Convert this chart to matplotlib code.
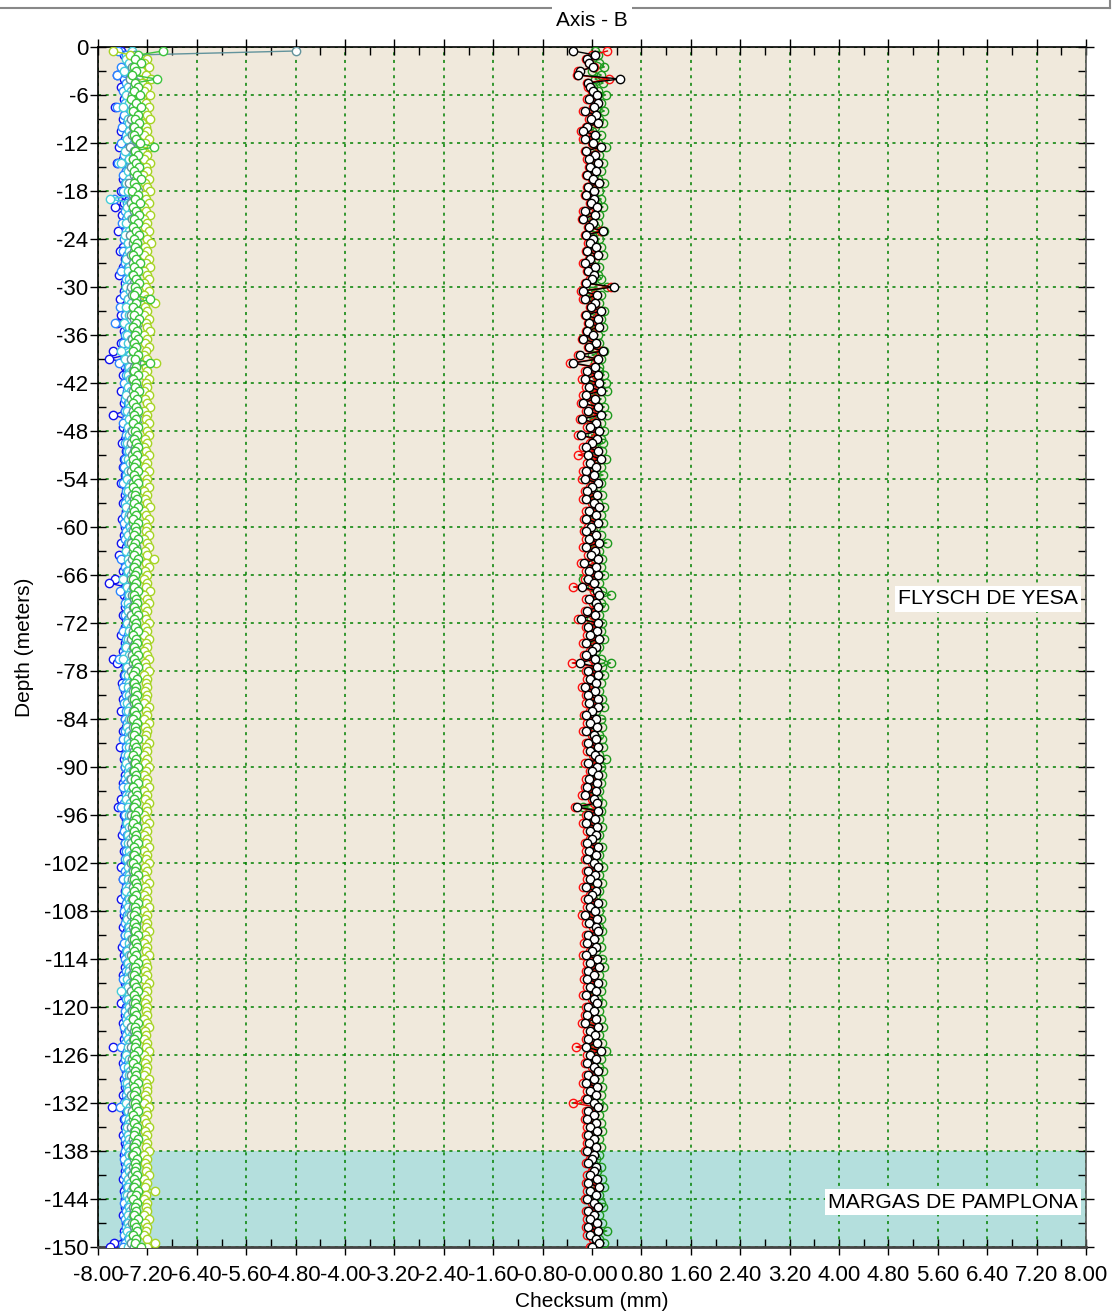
import numpy as np
import matplotlib
matplotlib.use("Agg")
import matplotlib.pyplot as plt
from matplotlib.lines import Line2D
from matplotlib.ticker import MultipleLocator

plt.rcParams['font.family'] = ['Liberation Sans', 'DejaVu Sans']
plt.rcParams['axes.unicode_minus'] = False

# sample depths every 0.5 m (0.5 .. 150)
depth = -np.arange(0.5, 150.01, 0.5)

# left group (axis B, cumulative)
blue = [
    -7.62, -7.58, -7.48, -7.52, -7.45, -7.55, -7.70, -7.58, -7.50, -7.62, -7.47, -7.55, -7.58, -7.50, -7.72, -7.54, -7.49, -7.60, -7.46, -7.53,
    -7.62, -7.50, -7.57, -7.48, -7.66, -7.52, -7.45, -7.59, -7.70, -7.51, -7.55, -7.47, -7.60, -7.53, -7.49, -7.63, -7.56, -7.50, -7.58, -7.72,
    -7.54, -7.61, -7.49, -7.57, -7.52, -7.68, -7.50, -7.55, -7.46, -7.59, -7.64, -7.51, -7.57, -7.48, -7.60, -7.53, -7.66, -7.50, -7.56, -7.49,
    -7.58, -7.52, -7.65, -7.50, -7.55, -7.47, -7.62, -7.54, -7.70, -7.51, -7.58, -7.49, -7.56, -7.62, -7.52, -7.75, -7.55, -7.82, -7.50, -7.57,
    -7.53, -7.60, -7.49, -7.56, -7.51, -7.63, -7.55, -7.48, -7.58, -7.52, -7.57, -7.75, -7.54, -7.50, -7.59, -7.53, -7.47, -7.56, -7.61, -7.52,
    -7.55, -7.49, -7.58, -7.53, -7.60, -7.51, -7.56, -7.48, -7.62, -7.54, -7.50, -7.57, -7.53, -7.59, -7.49, -7.55, -7.52, -7.61, -7.50, -7.56,
    -7.53, -7.58, -7.50, -7.62, -7.55, -7.49, -7.66, -7.52, -7.57, -7.51, -7.60, -7.54, -7.72, -7.82, -7.56, -7.50, -7.58, -7.53, -7.49, -7.57,
    -7.52, -7.60, -7.55, -7.50, -7.57, -7.53, -7.62, -7.49, -7.56, -7.52, -7.59, -7.54, -7.76, -7.70, -7.55, -7.50, -7.58, -7.53, -7.61, -7.51,
    -7.56, -7.52, -7.59, -7.50, -7.55, -7.62, -7.53, -7.57, -7.49, -7.55, -7.60, -7.52, -7.57, -7.51, -7.64, -7.54, -7.50, -7.58, -7.53, -7.56,
    -7.50, -7.57, -7.53, -7.60, -7.52, -7.56, -7.49, -7.62, -7.55, -7.68, -7.51, -7.58, -7.54, -7.50, -7.57, -7.53, -7.61, -7.52, -7.56, -7.49,
    -7.58, -7.53, -7.50, -7.57, -7.62, -7.54, -7.51, -7.59, -7.55, -7.50, -7.57, -7.53, -7.63, -7.52, -7.56, -7.49, -7.58, -7.54, -7.51, -7.60,
    -7.53, -7.57, -7.50, -7.55, -7.61, -7.52, -7.58, -7.54, -7.50, -7.56, -7.53, -7.60, -7.51, -7.57, -7.54, -7.50, -7.58, -7.52, -7.62, -7.55,
    -7.51, -7.57, -7.53, -7.60, -7.52, -7.56, -7.50, -7.58, -7.54, -7.76, -7.52, -7.57, -7.53, -7.60, -7.51, -7.55, -7.50, -7.58, -7.53, -7.56,
    -7.52, -7.59, -7.54, -7.50, -7.78, -7.55, -7.52, -7.58, -7.50, -7.56, -7.53, -7.60, -7.51, -7.57, -7.54, -7.50, -7.58, -7.53, -7.56, -7.52,
    -7.57, -7.53, -7.60, -7.51, -7.55, -7.58, -7.52, -7.56, -7.50, -7.57, -7.54, -7.59, -7.52, -7.55, -7.51, -7.58, -7.53, -7.56, -7.74, -7.80,
]
dodger = [
    -7.68, -7.55, -7.50, -7.45, -7.62, -7.48, -7.70, -7.46, -7.55, -7.50, -7.60, -7.52, -7.48, -7.56, -7.70, -7.50, -7.58, -7.47, -7.53, -7.61,
    -7.49, -7.55, -7.50, -7.63, -7.47, -7.52, -7.58, -7.50, -7.67, -7.49, -7.54, -7.60, -7.48, -7.56, -7.51, -7.59, -7.47, -7.74, -7.53, -7.50,
    -7.57, -7.49, -7.55, -7.61, -7.50, -7.54, -7.47, -7.58, -7.52, -7.49, -7.60, -7.53, -7.48, -7.56, -7.51, -7.62, -7.50, -7.55, -7.48, -7.53,
    -7.50, -7.58, -7.52, -7.47, -7.65, -7.51, -7.56, -7.48, -7.72, -7.53, -7.49, -7.57, -7.51, -7.60, -7.48, -7.54, -7.50, -7.58, -7.66, -7.52,
    -7.48, -7.55, -7.51, -7.58, -7.49, -7.53, -7.47, -7.56, -7.52, -7.50, -7.57, -7.49, -7.54, -7.60, -7.51, -7.48, -7.55, -7.52, -7.57, -7.50,
    -7.53, -7.48, -7.56, -7.51, -7.58, -7.49, -7.54, -7.52, -7.60, -7.50, -7.55, -7.47, -7.53, -7.57, -7.51, -7.49, -7.56, -7.52, -7.58, -7.50,
    -7.54, -7.49, -7.57, -7.52, -7.48, -7.55, -7.51, -7.62, -7.50, -7.56, -7.53, -7.49, -7.58, -7.51, -7.55, -7.64, -7.52, -7.48, -7.56, -7.51,
    -7.50, -7.57, -7.52, -7.49, -7.55, -7.60, -7.51, -7.54, -7.48, -7.56, -7.52, -7.58, -7.66, -7.50, -7.55, -7.49, -7.57, -7.52, -7.54, -7.60,
    -7.51, -7.55, -7.49, -7.58, -7.52, -7.54, -7.50, -7.57, -7.53, -7.49, -7.56, -7.51, -7.59, -7.52, -7.55, -7.48, -7.57, -7.53, -7.50, -7.56,
    -7.52, -7.49, -7.57, -7.53, -7.60, -7.50, -7.55, -7.51, -7.58, -7.63, -7.52, -7.56, -7.49, -7.54, -7.51, -7.58, -7.53, -7.50, -7.56, -7.52,
    -7.55, -7.50, -7.57, -7.52, -7.49, -7.56, -7.53, -7.60, -7.51, -7.55, -7.48, -7.57, -7.52, -7.54, -7.50, -7.58, -7.53, -7.49, -7.56, -7.51,
    -7.50, -7.56, -7.52, -7.58, -7.49, -7.54, -7.51, -7.57, -7.53, -7.50, -7.55, -7.52, -7.59, -7.50, -7.54, -7.57, -7.51, -7.55, -7.49, -7.53,
    -7.56, -7.51, -7.54, -7.49, -7.58, -7.52, -7.55, -7.50, -7.57, -7.62, -7.53, -7.50, -7.56, -7.52, -7.58, -7.51, -7.54, -7.49, -7.57, -7.53,
    -7.50, -7.55, -7.52, -7.58, -7.64, -7.53, -7.50, -7.56, -7.52, -7.49, -7.55, -7.51, -7.57, -7.53, -7.50, -7.56, -7.52, -7.58, -7.51, -7.54,
    -7.52, -7.57, -7.50, -7.55, -7.53, -7.49, -7.56, -7.52, -7.58, -7.51, -7.54, -7.50, -7.57, -7.53, -7.55, -7.50, -7.58, -7.52, -7.56, -7.60,
]
cyan = [
    -7.45, -7.40, -7.55, -7.50, -7.42, -7.58, -7.45, -7.48, -7.40, -7.52, -7.46, -7.55, -7.42, -7.50, -7.60, -7.47, -7.43, -7.52, -7.49, -7.44,
    -7.50, -7.46, -7.53, -7.41, -7.48, -7.56, -7.44, -7.50, -7.62, -7.47, -7.52, -7.43, -7.49, -7.55, -7.46, -7.51, -7.44, -7.80, -7.48, -7.53,
    -7.45, -7.51, -7.47, -7.54, -7.43, -7.49, -7.56, -7.46, -7.52, -7.44, -7.50, -7.47, -7.55, -7.43, -7.49, -7.52, -7.45, -7.50, -7.47, -7.54,
    -7.48, -7.44, -7.52, -7.47, -7.55, -7.43, -7.50, -7.46, -7.58, -7.49, -7.45, -7.53, -7.47, -7.51, -7.44, -7.62, -7.48, -7.56, -7.45, -7.50,
    -7.46, -7.52, -7.48, -7.44, -7.51, -7.47, -7.54, -7.45, -7.50, -7.48, -7.53, -7.46, -7.49, -7.44, -7.52, -7.47, -7.50, -7.45, -7.53, -7.48,
    -7.50, -7.45, -7.52, -7.48, -7.44, -7.51, -7.47, -7.53, -7.46, -7.49, -7.52, -7.45, -7.50, -7.47, -7.54, -7.46, -7.49, -7.52, -7.45, -7.48,
    -7.47, -7.52, -7.45, -7.50, -7.48, -7.54, -7.46, -7.51, -7.49, -7.44, -7.52, -7.47, -7.60, -7.48, -7.53, -7.46, -7.50, -7.45, -7.52, -7.48,
    -7.51, -7.46, -7.49, -7.53, -7.47, -7.50, -7.45, -7.52, -7.48, -7.54, -7.46, -7.50, -7.60, -7.48, -7.53, -7.47, -7.51, -7.45, -7.49, -7.52,
    -7.47, -7.50, -7.46, -7.53, -7.48, -7.51, -7.45, -7.50, -7.47, -7.53, -7.49, -7.46, -7.52, -7.48, -7.50, -7.45, -7.51, -7.47, -7.54, -7.49,
    -7.46, -7.51, -7.48, -7.45, -7.52, -7.47, -7.50, -7.55, -7.48, -7.52, -7.46, -7.50, -7.47, -7.53, -7.49, -7.45, -7.51, -7.48, -7.52, -7.46,
    -7.50, -7.47, -7.53, -7.48, -7.51, -7.45, -7.49, -7.52, -7.47, -7.50, -7.54, -7.46, -7.50, -7.48, -7.52, -7.47, -7.49, -7.53, -7.46, -7.50,
    -7.48, -7.52, -7.46, -7.50, -7.47, -7.53, -7.49, -7.45, -7.51, -7.48, -7.50, -7.46, -7.53, -7.48, -7.51, -7.62, -7.49, -7.52, -7.47, -7.50,
    -7.46, -7.51, -7.48, -7.53, -7.47, -7.50, -7.45, -7.52, -7.48, -7.51, -7.47, -7.54, -7.49, -7.46, -7.52, -7.48, -7.50, -7.47, -7.53, -7.49,
    -7.51, -7.47, -7.50, -7.54, -7.48, -7.52, -7.46, -7.50, -7.48, -7.53, -7.47, -7.51, -7.49, -7.46, -7.52, -7.48, -7.50, -7.45, -7.51, -7.48,
    -7.50, -7.46, -7.52, -7.48, -7.51, -7.47, -7.53, -7.49, -7.46, -7.50, -7.48, -7.52, -7.47, -7.51, -7.49, -7.53, -7.48, -7.50, -7.46, -7.52,
]
slate = [
    -4.80, -7.40, -7.28, -7.35, -7.45, -7.40, -7.32, -7.48, -7.38, -7.42, -7.30, -7.45, -7.37, -7.28, -7.44, -7.40, -7.35, -7.47, -7.39, -7.43,
    -7.36, -7.45, -7.40, -7.33, -7.48, -7.41, -7.37, -7.44, -7.39, -7.46, -7.35, -7.42, -7.38, -7.50, -7.40, -7.36, -7.44, -7.41, -7.47, -7.38,
    -7.42, -7.37, -7.45, -7.40, -7.34, -7.43, -7.48, -7.39, -7.44, -7.36, -7.41, -7.46, -7.38, -7.43, -7.40, -7.35, -7.44, -7.39, -7.42, -7.47,
    -7.40, -7.45, -7.38, -7.25, -7.43, -7.39, -7.46, -7.41, -7.36, -7.44, -7.40, -7.37, -7.45, -7.42, -7.38, -7.44, -7.40, -7.47, -7.25, -7.41,
    -7.43, -7.39, -7.45, -7.41, -7.37, -7.44, -7.40, -7.46, -7.42, -7.38, -7.44, -7.41, -7.36, -7.43, -7.40, -7.45, -7.39, -7.42, -7.46, -7.40,
    -7.41, -7.45, -7.38, -7.43, -7.40, -7.46, -7.42, -7.37, -7.44, -7.41, -7.39, -7.45, -7.42, -7.38, -7.44, -7.40, -7.46, -7.41, -7.43, -7.39,
    -7.44, -7.40, -7.42, -7.47, -7.39, -7.43, -7.41, -7.45, -7.38, -7.42, -7.44, -7.40, -7.46, -7.41, -7.43, -7.38, -7.45, -7.42, -7.40, -7.44,
    -7.41, -7.46, -7.40, -7.43, -7.38, -7.44, -7.42, -7.47, -7.40, -7.43, -7.39, -7.45, -7.41, -7.44, -7.40, -7.46, -7.42, -7.39, -7.44, -7.41,
    -7.43, -7.40, -7.45, -7.42, -7.38, -7.44, -7.41, -7.46, -7.40, -7.43, -7.39, -7.45, -7.42, -7.40, -7.44, -7.41, -7.38, -7.45, -7.42, -7.40,
    -7.44, -7.41, -7.46, -7.40, -7.43, -7.39, -7.45, -7.42, -7.40, -7.44, -7.41, -7.47, -7.42, -7.39, -7.45, -7.41, -7.43, -7.40, -7.46, -7.42,
    -7.40, -7.44, -7.42, -7.46, -7.39, -7.43, -7.41, -7.45, -7.40, -7.44, -7.42, -7.38, -7.45, -7.41, -7.43, -7.40, -7.46, -7.42, -7.39, -7.44,
    -7.42, -7.39, -7.45, -7.41, -7.44, -7.40, -7.46, -7.42, -7.38, -7.44, -7.41, -7.45, -7.40, -7.43, -7.39, -7.46, -7.42, -7.40, -7.44, -7.41,
    -7.45, -7.41, -7.43, -7.39, -7.46, -7.42, -7.40, -7.44, -7.41, -7.47, -7.42, -7.39, -7.45, -7.41, -7.43, -7.40, -7.46, -7.42, -7.44, -7.40,
    -7.42, -7.46, -7.40, -7.43, -7.39, -7.45, -7.41, -7.44, -7.40, -7.46, -7.42, -7.39, -7.44, -7.41, -7.43, -7.40, -7.45, -7.42, -7.38, -7.44,
    -7.41, -7.45, -7.42, -7.39, -7.44, -7.40, -7.46, -7.42, -7.40, -7.44, -7.41, -7.43, -7.39, -7.45, -7.42, -7.40, -7.44, -7.41, -7.46, -7.42,
]
yellowgreen = [
    -7.75, -7.48, -7.20, -7.26, -7.18, -7.30, -7.22, -7.14, -7.28, -7.20, -7.25, -7.16, -7.32, -7.22, -7.18, -7.26, -7.20, -7.15, -7.28, -7.23,
    -7.20, -7.26, -7.17, -7.24, -7.14, -7.28, -7.21, -7.25, -7.16, -7.23, -7.20, -7.27, -7.18, -7.24, -7.21, -7.15, -7.26, -7.22, -7.17, -7.25,
    -7.23, -7.16, -7.26, -7.20, -7.24, -7.17, -7.27, -7.21, -7.14, -7.24, -7.20, -7.26, -7.18, -7.23, -7.16, -7.25, -7.21, -7.17, -7.26, -7.22,
    -7.18, -7.25, -7.21, -7.08, -7.24, -7.20, -7.26, -7.17, -7.23, -7.21, -7.16, -7.25, -7.20, -7.24, -7.17, -7.22, -7.26, -7.20, -7.06, -7.23,
    -7.21, -7.25, -7.17, -7.23, -7.20, -7.26, -7.18, -7.24, -7.21, -7.16, -7.25, -7.20, -7.23, -7.17, -7.26, -7.21, -7.18, -7.24, -7.20, -7.25,
    -7.22, -7.17, -7.25, -7.20, -7.24, -7.18, -7.26, -7.21, -7.23, -7.17, -7.25, -7.20, -7.24, -7.21, -7.16, -7.25, -7.22, -7.18, -7.24, -7.20,
    -7.23, -7.18, -7.25, -7.21, -7.17, -7.24, -7.20, -7.10, -7.22, -7.18, -7.24, -7.21, -7.25, -7.20, -7.23, -7.16, -7.25, -7.21, -7.18, -7.24,
    -7.20, -7.25, -7.22, -7.17, -7.24, -7.21, -7.26, -7.18, -7.23, -7.20, -7.25, -7.21, -7.17, -7.24, -7.22, -7.18, -7.25, -7.20, -7.23, -7.21,
    -7.24, -7.20, -7.22, -7.26, -7.18, -7.23, -7.21, -7.25, -7.17, -7.24, -7.20, -7.22, -7.26, -7.18, -7.23, -7.21, -7.25, -7.20, -7.24, -7.17,
    -7.22, -7.25, -7.20, -7.23, -7.18, -7.26, -7.21, -7.24, -7.17, -7.23, -7.20, -7.25, -7.22, -7.18, -7.24, -7.21, -7.26, -7.20, -7.23, -7.18,
    -7.25, -7.21, -7.23, -7.18, -7.24, -7.20, -7.26, -7.22, -7.17, -7.24, -7.21, -7.25, -7.20, -7.23, -7.18, -7.26, -7.21, -7.24, -7.20, -7.22,
    -7.18, -7.24, -7.21, -7.25, -7.20, -7.23, -7.17, -7.26, -7.22, -7.20, -7.24, -7.21, -7.25, -7.18, -7.23, -7.20, -7.26, -7.21, -7.24, -7.20,
    -7.23, -7.20, -7.25, -7.21, -7.17, -7.24, -7.22, -7.26, -7.20, -7.23, -7.18, -7.25, -7.21, -7.24, -7.20, -7.22, -7.26, -7.18, -7.23, -7.21,
    -7.20, -7.24, -7.21, -7.26, -7.18, -7.23, -7.20, -7.25, -7.22, -7.17, -7.24, -7.21, -7.25, -7.20, -7.23, -7.18, -7.26, -7.21, -7.24, -7.20,
    -7.23, -7.18, -7.25, -7.21, -7.24, -7.08, -7.22, -7.26, -7.20, -7.23, -7.21, -7.25, -7.18, -7.24, -7.20, -7.23, -7.26, -7.21, -7.08, -7.20,
]
green = [
    -6.95, -7.35, -7.40, -7.30, -7.42, -7.38, -7.45, -7.05, -7.40, -7.35, -7.42, -7.32, -7.47, -7.38, -7.30, -7.43, -7.36, -7.40, -7.33, -7.41,
    -7.35, -7.42, -7.38, -7.32, -7.10, -7.40, -7.36, -7.44, -7.39, -7.33, -7.41, -7.37, -7.30, -7.42, -7.38, -7.45, -7.35, -7.40, -7.32, -7.43,
    -7.38, -7.34, -7.41, -7.36, -7.44, -7.39, -7.33, -7.42, -7.37, -7.40, -7.35, -7.43, -7.38, -7.32, -7.41, -7.36, -7.44, -7.39, -7.34, -7.40,
    -7.37, -7.42, -7.15, -7.38, -7.44, -7.36, -7.41, -7.33, -7.39, -7.43, -7.37, -7.40, -7.35, -7.42, -7.38, -7.44, -7.36, -7.40, -7.15, -7.39,
    -7.41, -7.36, -7.43, -7.38, -7.40, -7.34, -7.42, -7.37, -7.44, -7.39, -7.35, -7.41, -7.38, -7.43, -7.36, -7.40, -7.37, -7.42, -7.39, -7.35,
    -7.40, -7.37, -7.43, -7.38, -7.41, -7.35, -7.42, -7.39, -7.36, -7.44, -7.38, -7.40, -7.37, -7.42, -7.35, -7.41, -7.38, -7.43, -7.36, -7.40,
    -7.38, -7.42, -7.36, -7.40, -7.43, -7.37, -7.41, -7.35, -7.39, -7.42, -7.37, -7.40, -7.44, -7.38, -7.41, -7.36, -7.42, -7.39, -7.37, -7.41,
    -7.39, -7.35, -7.42, -7.38, -7.40, -7.36, -7.43, -7.39, -7.37, -7.41, -7.38, -7.35, -7.42, -7.39, -7.36, -7.40, -7.43, -7.37, -7.41, -7.38,
    -7.40, -7.37, -7.42, -7.38, -7.36, -7.41, -7.39, -7.43, -7.37, -7.40, -7.38, -7.42, -7.36, -7.41, -7.39, -7.37, -7.43, -7.38, -7.40, -7.36,
    -7.42, -7.38, -7.40, -7.36, -7.43, -7.39, -7.37, -7.41, -7.38, -7.42, -7.36, -7.40, -7.39, -7.43, -7.37, -7.41, -7.38, -7.40, -7.36, -7.42,
    -7.39, -7.41, -7.37, -7.43, -7.38, -7.40, -7.36, -7.42, -7.39, -7.37, -7.41, -7.38, -7.43, -7.36, -7.40, -7.39, -7.42, -7.37, -7.41, -7.38,
    -7.40, -7.36, -7.42, -7.39, -7.37, -7.41, -7.38, -7.43, -7.36, -7.40, -7.38, -7.42, -7.37, -7.41, -7.39, -7.36, -7.42, -7.38, -7.40, -7.37,
    -7.41, -7.38, -7.43, -7.36, -7.40, -7.39, -7.37, -7.42, -7.38, -7.40, -7.36, -7.41, -7.39, -7.43, -7.37, -7.40, -7.38, -7.42, -7.36, -7.41,
    -7.38, -7.42, -7.37, -7.40, -7.39, -7.36, -7.43, -7.38, -7.41, -7.37, -7.40, -7.42, -7.36, -7.39, -7.41, -7.38, -7.43, -7.37, -7.40, -7.39,
    -7.40, -7.37, -7.42, -7.38, -7.41, -7.36, -7.39, -7.43, -7.37, -7.40, -7.38, -7.42, -7.36, -7.41, -7.39, -7.37, -7.43, -7.38, -7.40, -7.30,
]

# right group (axis B, checksum around zero)
chk_green = [
    0.05, 0.10, -0.05, 0.12, 0.20, 0.00, 0.15, 0.05, 0.18, 0.02, 0.10, 0.22, 0.05, 0.15, 0.08, 0.20, 0.03, 0.12, 0.18, 0.05,
    0.00, 0.15, 0.05, 0.10, 0.22, 0.02, 0.12, 0.05, 0.18, 0.00, 0.14, 0.03, 0.10, 0.20, 0.02, 0.12, 0.00, 0.15, 0.08, 0.18,
    0.02, 0.12, -0.05, 0.10, 0.05, 0.20, 0.00, 0.12, 0.04, 0.15, 0.02, 0.18, 0.05, -0.02, 0.12, 0.03, 0.10, 0.15, 0.00, 0.25,
    0.00, 0.15, -0.08, 0.12, 0.05, 0.20, 0.02, 0.15, 0.05, 0.18, 0.00, 0.10, -0.05, 0.12, 0.05, 0.20, 0.00, 0.15, 0.05, 0.12,
    0.12, 0.20, 0.02, 0.22, 0.06, 0.25, 0.00, 0.15, 0.05, 0.20, 0.04, 0.24, -0.04, 0.14, 0.08, 0.20, 0.00, 0.14, 0.18, 0.04,
    0.16, 0.02, 0.22, 0.06, 0.14, 0.00, 0.18, -0.02, 0.15, 0.08, 0.02, 0.16, -0.02, 0.10, 0.20, 0.04, 0.14, 0.00, 0.18, 0.06,
    0.02, 0.14, 0.04, 0.24, -0.02, 0.12, 0.06, 0.16, 0.00, 0.14, 0.04, 0.20, -0.14, 0.12, 0.00, 0.16, 0.30, 0.04, 0.14, 0.20,
    0.02, 0.12, -0.02, 0.16, 0.02, 0.14, 0.04, 0.20, -0.02, 0.12, 0.06, 0.00, 0.14, 0.30, 0.16, 0.02, 0.20, 0.04, 0.14, -0.02,
    0.12, 0.02, 0.16, 0.04, 0.20, 0.06, 0.00, 0.14, 0.04, 0.16, -0.02, 0.12, 0.16, 0.02, 0.18, 0.04, 0.12, 0.22, 0.00, 0.14,
    0.06, 0.16, 0.02, 0.14, -0.02, 0.12, -0.04, 0.10, 0.16, -0.14, 0.14, 0.02, 0.12, -0.02, 0.16, 0.04, 0.12, 0.06, 0.00, 0.16,
    0.04, 0.12, 0.00, 0.10, 0.18, 0.02, 0.12, 0.04, 0.16, -0.02, 0.12, 0.06, 0.02, 0.16, 0.04, 0.12, -0.02, 0.14, 0.04, 0.12,
    0.16, 0.02, 0.12, 0.00, 0.14, 0.06, -0.02, 0.16, 0.04, 0.20, 0.02, 0.12, 0.00, 0.16, 0.04, 0.14, -0.02, 0.10, 0.16, 0.02,
    0.12, 0.00, 0.14, -0.02, 0.18, 0.04, 0.12, 0.02, 0.16, -0.06, 0.22, 0.04, 0.14, 0.00, 0.12, 0.18, 0.02, 0.12, -0.02, 0.16,
    0.04, 0.14, 0.00, 0.12, 0.18, 0.02, 0.12, -0.02, 0.14, 0.04, 0.16, 0.02, 0.12, 0.04, 0.14, 0.00, 0.12, 0.06, 0.02, 0.14,
    0.08, 0.02, 0.16, 0.00, 0.20, 0.04, 0.12, -0.02, 0.14, 0.18, 0.02, 0.12, 0.04, 0.16, 0.00, 0.24, 0.04, 0.12, 0.20, 0.06,
]
chk_red = [
    0.25, 0.00, -0.10, -0.05, 0.03, -0.22, -0.25, 0.28, -0.08, -0.06, 0.00, 0.05, -0.08, 0.07, 0.02, -0.15, 0.04, -0.05, 0.08, -0.10,
    -0.18, 0.02, -0.14, 0.00, 0.12, -0.12, 0.03, -0.08, 0.07, -0.05, 0.03, -0.10, 0.00, 0.10, -0.08, 0.02, -0.12, 0.01, -0.04, 0.05,
    -0.15, 0.03, -0.17, 0.00, -0.07, 0.15, -0.12, 0.00, -0.06, 0.04, -0.10, 0.08, -0.05, -0.14, 0.03, -0.08, 0.02, -0.03, -0.12, 0.30,
    -0.18, 0.05, -0.14, 0.03, -0.04, 0.12, -0.12, 0.07, -0.07, 0.10, -0.10, 0.00, -0.16, 0.04, -0.07, 0.15, -0.22, 0.08, -0.35, 0.02,
    -0.12, 0.06, -0.16, 0.08, -0.10, 0.10, -0.14, 0.02, -0.18, 0.06, -0.10, 0.10, -0.20, 0.02, -0.08, 0.08, -0.22, 0.04, -0.04, -0.14,
    0.05, -0.22, 0.10, -0.08, 0.02, -0.14, 0.00, -0.16, 0.06, -0.04, -0.12, 0.04, -0.14, 0.00, 0.08, -0.10, 0.02, -0.13, 0.06, -0.06,
    -0.13, 0.02, -0.09, 0.08, -0.14, 0.01, -0.06, 0.05, -0.18, 0.02, -0.10, 0.06, -0.11, 0.00, -0.30, 0.04, 0.08, -0.10, 0.02, 0.06,
    -0.12, 0.01, -0.22, 0.06, -0.10, 0.04, -0.08, 0.08, -0.15, 0.02, -0.04, -0.13, 0.01, -0.32, 0.04, -0.10, 0.06, -0.08, 0.02, -0.16,
    0.01, -0.10, 0.05, -0.09, 0.06, -0.04, -0.13, 0.02, -0.08, 0.04, -0.14, 0.00, 0.03, -0.10, 0.06, -0.08, 0.01, 0.08, -0.12, 0.04,
    -0.04, 0.06, -0.09, 0.04, -0.12, 0.02, -0.16, 0.00, 0.04, -0.28, 0.06, -0.10, 0.01, -0.14, 0.04, -0.08, 0.02, -0.04, -0.12, 0.06,
    -0.09, 0.02, -0.12, 0.00, 0.06, -0.10, 0.01, -0.08, 0.04, -0.14, 0.02, -0.04, -0.11, 0.06, -0.08, 0.01, -0.16, 0.04, -0.09, 0.02,
    0.06, -0.10, 0.00, -0.13, 0.02, -0.04, -0.15, 0.04, -0.08, 0.08, -0.10, 0.00, -0.13, 0.06, -0.08, 0.02, -0.15, 0.00, 0.04, -0.10,
    0.00, -0.12, 0.02, -0.16, 0.06, -0.08, 0.00, -0.10, 0.04, -0.26, 0.10, -0.08, 0.02, -0.12, 0.00, 0.06, -0.10, 0.00, -0.14, 0.04,
    -0.08, 0.02, -0.12, -0.30, 0.06, -0.10, 0.00, -0.12, 0.02, -0.08, 0.04, -0.10, 0.00, -0.08, 0.02, -0.12, 0.00, -0.04, -0.10, 0.02,
    0.00, -0.08, 0.04, -0.10, 0.10, -0.08, 0.02, -0.12, 0.00, 0.06, -0.10, 0.00, -0.08, 0.04, -0.10, 0.06, -0.08, 0.02, 0.08, -0.04,
]
chk_black = [
    -0.30, 0.05, -0.08, -0.05, 0.02, -0.20, -0.22, 0.45, -0.06, -0.04, 0.02, 0.08, -0.05, 0.10, 0.04, -0.12, 0.06, -0.02, 0.10, -0.08,
    -0.15, 0.05, -0.12, 0.02, 0.15, -0.10, 0.05, -0.05, 0.10, -0.03, 0.06, -0.08, 0.02, 0.12, -0.06, 0.04, -0.10, 0.03, -0.02, 0.08,
    -0.12, 0.05, -0.15, 0.02, -0.05, 0.18, -0.10, 0.02, -0.04, 0.06, -0.08, 0.10, -0.03, -0.12, 0.05, -0.06, 0.04, 0.00, -0.10, 0.35,
    -0.15, 0.08, -0.12, 0.05, -0.02, 0.15, -0.10, 0.10, -0.05, 0.12, -0.08, 0.02, -0.14, 0.06, -0.05, 0.18, -0.20, 0.10, -0.30, 0.05,
    -0.08, 0.10, -0.12, 0.12, -0.05, 0.15, -0.10, 0.05, -0.15, 0.10, -0.06, 0.14, -0.16, 0.06, -0.04, 0.12, -0.18, 0.08, 0.00, -0.10,
    0.10, -0.06, 0.14, -0.04, 0.06, -0.10, 0.04, -0.12, 0.10, 0.00, -0.08, 0.08, -0.10, 0.04, 0.12, -0.05, 0.06, -0.09, 0.10, -0.02,
    -0.09, 0.06, -0.05, 0.12, -0.10, 0.05, -0.02, 0.09, -0.13, 0.06, -0.05, 0.10, -0.07, 0.04, -0.16, 0.08, 0.12, -0.05, 0.06, 0.10,
    -0.08, 0.05, -0.18, 0.10, -0.06, 0.08, -0.04, 0.12, -0.10, 0.06, 0.00, -0.09, 0.05, -0.20, 0.08, -0.06, 0.10, -0.04, 0.06, -0.12,
    0.05, -0.07, 0.09, -0.05, 0.10, 0.00, -0.09, 0.06, -0.04, 0.08, -0.10, 0.04, 0.07, -0.06, 0.10, -0.04, 0.05, 0.12, -0.07, 0.08,
    0.00, 0.10, -0.05, 0.08, -0.08, 0.06, -0.12, 0.04, 0.08, -0.25, 0.10, -0.06, 0.05, -0.10, 0.08, -0.04, 0.06, 0.00, -0.08, 0.10,
    -0.05, 0.06, -0.08, 0.04, 0.10, -0.06, 0.05, -0.04, 0.08, -0.10, 0.06, 0.00, -0.07, 0.10, -0.04, 0.05, -0.12, 0.08, -0.05, 0.06,
    0.10, -0.06, 0.04, -0.08, 0.06, 0.00, -0.10, 0.08, -0.04, 0.12, -0.06, 0.04, -0.08, 0.10, -0.04, 0.06, -0.10, 0.04, 0.08, -0.06,
    0.04, -0.08, 0.06, -0.12, 0.10, -0.04, 0.05, -0.06, 0.08, -0.10, 0.14, -0.04, 0.06, -0.08, 0.04, 0.10, -0.06, 0.04, -0.10, 0.08,
    -0.04, 0.06, -0.08, 0.04, 0.10, -0.06, 0.04, -0.08, 0.06, -0.04, 0.08, -0.06, 0.04, -0.05, 0.06, -0.08, 0.04, 0.00, -0.06, 0.06,
    0.04, -0.04, 0.08, -0.06, 0.12, -0.04, 0.06, -0.08, 0.04, 0.10, -0.06, 0.04, -0.04, 0.08, -0.06, 0.10, -0.04, 0.06, 0.12, 0.00,
]

x_ticks = np.arange(-8, 8.01, 0.8)
x_labels = ['-8.00', '-7.20', '-6.40', '-5.60', '-4.80', '-4.00', '-3.20', '-2.40', '-1.60', '-0.80',
            '-0.00', '0.80', '1.60', '2.40', '3.20', '4.00', '4.80', '5.60', '6.40', '7.20', '8.00']
y_ticks = np.arange(-150, 1, 6)

layers = [('FLYSCH DE YESA', 0, -138, '#f0e9dc', -69.0),
          ('MARGAS DE PAMPLONA', -138, -150, '#b4dfdd', -144.4)]

fig = plt.figure(figsize=(11.12, 13.15), dpi=100)
ax = fig.add_axes([98 / 1112, 68 / 1315, 988 / 1112, 1200 / 1315])

for name, top, bot, col, ylab in layers:
    ax.axhspan(bot, top, color=col, zorder=0, lw=0)
    ax.text(7.87, ylab, name, ha='right', va='center', fontsize=15.3, zorder=6,
            bbox=dict(facecolor='white', edgecolor='none', pad=2.5))

ax.grid(True, color='#008000', linestyle=(0, (2, 3)), linewidth=1.1, zorder=1)
ax.set_axisbelow(True)

left_series = [(blue, '#1010ee'), (dodger, '#2a86ff'), (cyan, '#44ccd8'),
               (slate, '#62939c'), (yellowgreen, '#a6d424'), (green, '#3cc43c')]
for vals, col in left_series:
    ax.plot(vals, depth, color=col, lw=1, marker='o', ms=6, mfc='white',
            mec=col, mew=1, zorder=3)

ax.plot(chk_green, depth, color='#1e9a1e', lw=1, marker='o', ms=6, mfc='none',
        mec='#1e9a1e', mew=1, zorder=3)
ax.plot(chk_red, depth, color='#e00000', lw=1, marker='o', ms=6, mfc='none',
        mec='#ff1010', mew=1, zorder=3)
ax.plot(chk_black, depth, color='#000000', lw=1, marker='o', ms=6, mfc='white',
        mec='#000000', mew=1, zorder=4)

ax.set_xlim(-8, 8)
ax.set_ylim(-150, 0)
ax.set_xticks(x_ticks)
ax.set_xticklabels(x_labels)
ax.set_yticks(y_ticks)
ax.xaxis.set_minor_locator(MultipleLocator(0.4))
ax.yaxis.set_minor_locator(MultipleLocator(3))
ax.tick_params(axis='both', which='major', labelsize=16, direction='inout', length=12, width=1)
ax.tick_params(axis='both', which='minor', direction='in', length=6, width=1)
ax.tick_params(top=True, right=True, which='both')
ax.tick_params(axis='x', which='major', pad=7)
ax.tick_params(axis='y', which='major', pad=1)

for s in ax.spines.values():
    s.set_linewidth(1.2)
ax.spines['bottom'].set_color('#444444')
ax.spines['bottom'].set_linewidth(2)
ax.spines['right'].set_color('#555555')

ax.set_xlabel('Checksum (mm)', fontsize=15, labelpad=4)
ax.set_ylabel('Depth (meters)', fontsize=15, labelpad=7)

fig.add_artist(Line2D([0, 1110 / 1112], [1 - 8 / 1315] * 2, color='#888888', lw=1.5))
fig.add_artist(Line2D([1110 / 1112] * 2, [1 - 8 / 1315, 1], color='#888888', lw=1.5))
fig.text(592 / 1112, 1 - 20 / 1315, 'Axis - B', ha='center', va='center', fontsize=15,
         bbox=dict(facecolor='white', edgecolor='none', pad=3))

fig.savefig('out.png', dpi=100, facecolor='white')
